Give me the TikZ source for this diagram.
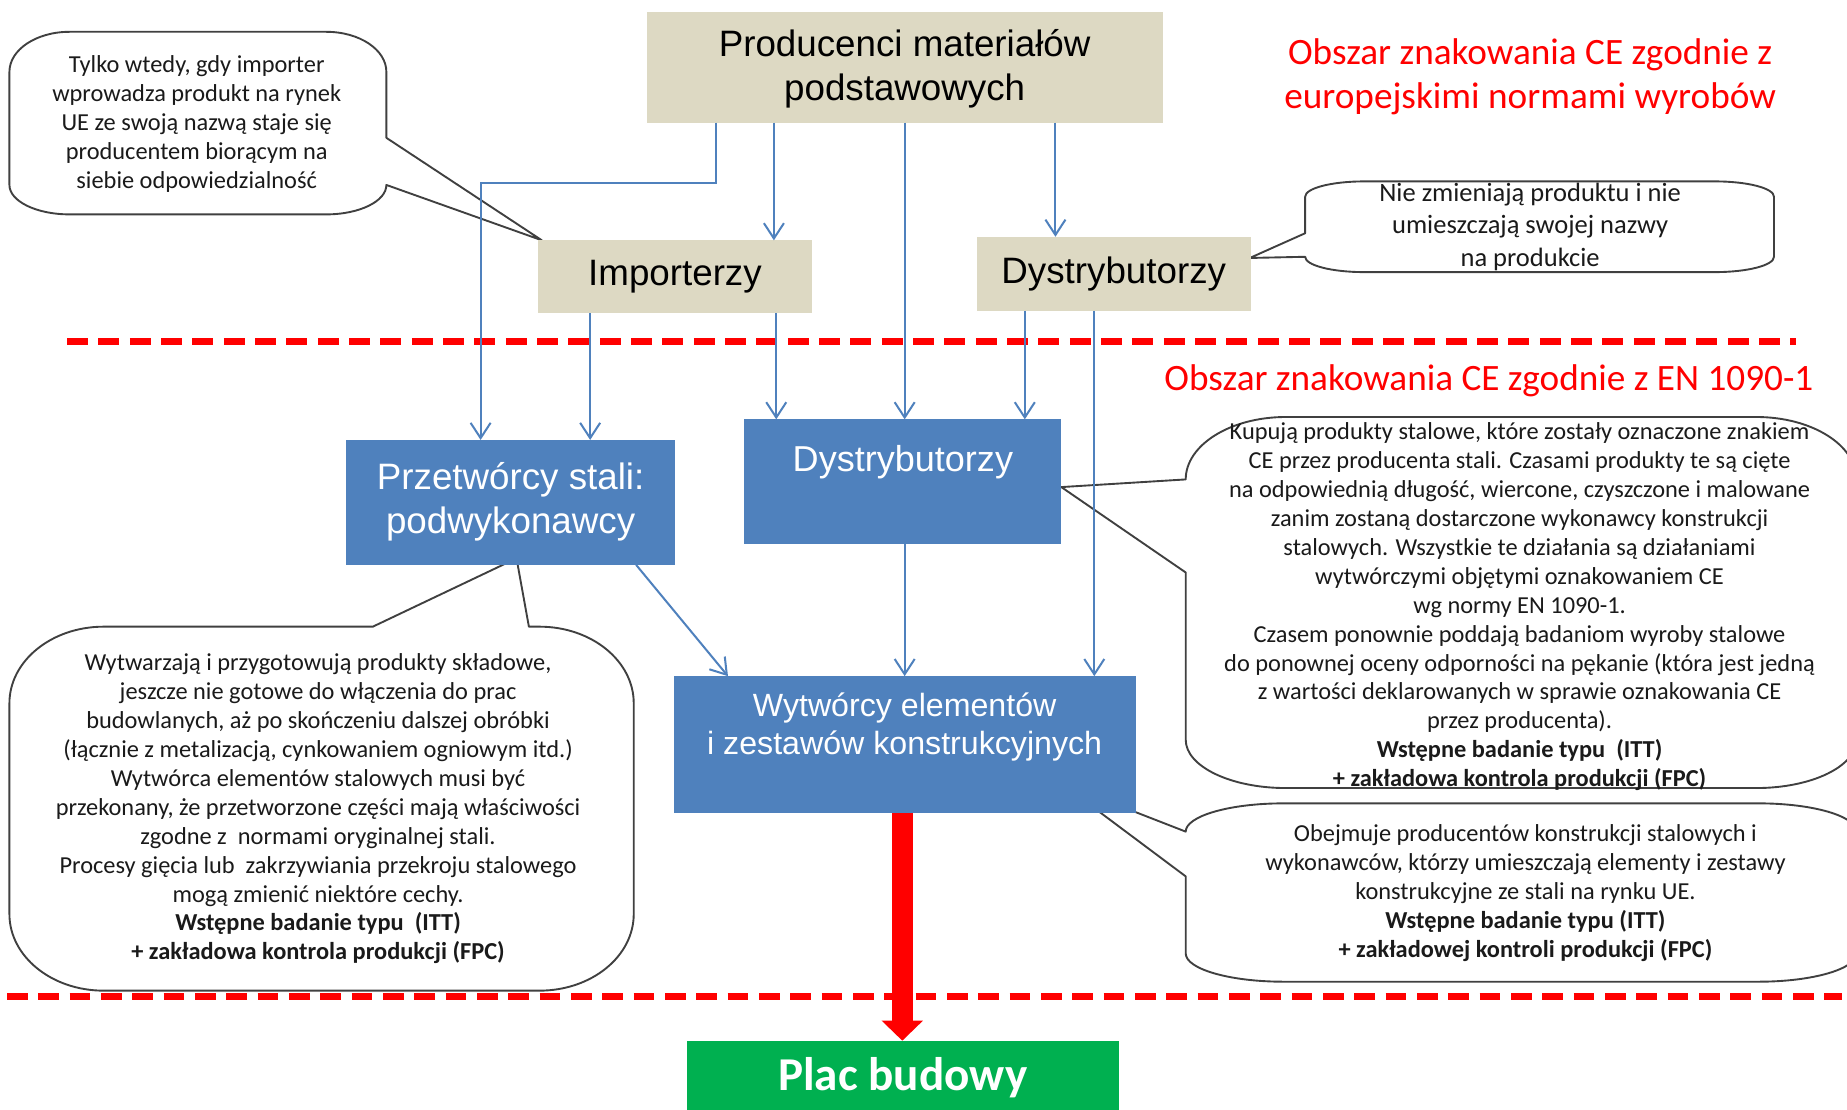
\documentclass[tikz,border=0pt]{standalone}
\usepackage{fontspec}
\setmainfont{Carlito}
\newfontfamily\arialf{Liberation Sans}
\usetikzlibrary{arrows.meta,calc}
\definecolor{tanc}{HTML}{DDD9C3}
\definecolor{bluec}{HTML}{4F81BD}
\definecolor{greenc}{HTML}{00B050}
\definecolor{outc}{HTML}{404040}
\definecolor{txtc}{HTML}{1A1A1A}
\tikzset{
 boxbase/.style={inner sep=0pt, outer sep=0pt, align=center},
 tanbox/.style={boxbase, fill=tanc, text=black, font=\arialf\fontsize{15.6}{18.8}\selectfont},
 bluebox/.style={boxbase, fill=bluec, text=white, font=\arialf\fontsize{15.6}{18.8}\selectfont},
 whitelab/.style={inner sep=0pt, align=center, text=white},
 arr/.style={draw=bluec, line width=0.85pt, -{Straight Barb[length=6.5pt,width=8.5pt]}},
 bub/.style={fill=white, draw=outc, line width=0.8pt, line join=round},
 bubtext/.style={align=center, text=txtc, inner sep=0pt, font=\fontsize{10.35}{12.3}\selectfont},
 redlab/.style={align=center, text=red, inner sep=0pt, font=\fontsize{15.8}{18.6}\selectfont},
 reddash/.style={draw=red, line width=2.85pt, dash pattern=on 8.8pt off 4.5pt},
 bigred/.style={draw=red, line width=9pt, -{Triangle[length=8.5pt 0 0,width=17pt 0 0]}},
}
\begin{document}
\begin{tikzpicture}[x=0.5pt,y=-0.5pt]
\useasboundingbox (0,0) rectangle (1568,942);
\clip (0,0) rectangle (1568,942);
\fill[white] (0,0) rectangle (1568,942);

% ---------- callout bubbles ----------
% A (top left)
\draw[bub] (59,27) -- (277,27) .. controls (305.2,27) and (328,42.2) .. (328,61)
  -- (328,117) -- (460,204) -- (328,157)
  .. controls (328,170.8) and (305.2,182) .. (277,182) -- (59,182)
  .. controls (30.8,182) and (8,170.8) .. (8,157) -- (8,61)
  .. controls (8,42.2) and (30.8,27) .. (59,27) -- cycle;
% B (top right)
\draw[bub] (1158,154) -- (1456,154) .. controls (1483.6,154) and (1506,159.8) .. (1506,167)
  -- (1506,218) .. controls (1506,225.2) and (1483.6,231) .. (1456,231) -- (1158,231)
  .. controls (1130.4,231) and (1108,225.2) .. (1108,218) -- (1061,219) -- (1108,198)
  -- (1108,167) .. controls (1108,159.8) and (1130.4,154) .. (1158,154) -- cycle;
% C (bottom left)
\draw[bub] (88,532) -- (316.5,532) -- (438.5,474) -- (449,532) -- (458,532)
  .. controls (502.2,532) and (538,561.1) .. (538,597) -- (538,776)
  .. controls (538,811.9) and (502.2,841) .. (458,841) -- (88,841)
  .. controls (43.8,841) and (8,811.9) .. (8,776) -- (8,597)
  .. controls (8,561.1) and (43.8,532) .. (88,532) -- cycle;
% D (right, large)
\draw[bub] (1091.6,354) -- (1491,354) .. controls (1537.9,354) and (1576,377.7) .. (1576,407)
  -- (1576,628) .. controls (1576,650.6) and (1537.9,669) .. (1491,669) -- (1091.6,669)
  .. controls (1044.7,669) and (1006.6,650.6) .. (1006.6,628) -- (1006.6,486)
  -- (901,413.5) -- (1006.6,407)
  .. controls (1006.6,377.7) and (1044.7,354) .. (1091.6,354) -- cycle;
% E (right, bottom)
\draw[bub] (1089.6,682) -- (1493,682) .. controls (1538.8,682) and (1576,692.8) .. (1576,706)
  -- (1576,809.4) .. controls (1576,822.6) and (1538.8,833.4) .. (1493,833.4) -- (1089.6,833.4)
  .. controls (1043.8,833.4) and (1006.6,822.6) .. (1006.6,809.4) -- (1006.6,744)
  -- (900.5,664.7) -- (1006.6,706)
  .. controls (1006.6,692.8) and (1043.8,682) .. (1089.6,682) -- cycle;

% ---------- red dashed borders ----------
\draw[reddash] (57,290) -- (1525,290);
\draw[reddash] (6,846) -- (1564,846);

% ---------- boxes ----------
\node[tanbox, minimum width=219pt, minimum height=47pt] (prod) at (768,57) {};
\node[whitelab, text=black, font=\arialf\fontsize{15.6}{18.6}\selectfont] (prodt) at (768,58.5) {Producenci materiałów\\podstawowych};
\node[tanbox, minimum width=116pt, minimum height=31pt] (imp) at (573,235) {Importerzy};
\node[tanbox, minimum width=116.5pt, minimum height=31.5pt] (dist1) at (945.5,232.5) {Dystrybutorzy};
\node[bluebox, minimum width=139.5pt, minimum height=53pt] (przet) at (433.5,426.5) {};
\node[whitelab, font=\arialf\fontsize{15.6}{18.6}\selectfont] (przett) at (433.5,426) {Przetwórcy stali:\\podwykonawcy};
\node[bluebox, minimum width=134.5pt, minimum height=53pt] (dist2) at (766.5,409) {};
\node[whitelab, font=\arialf\fontsize{15.3}{18.5}\selectfont] (dist2t) at (766.5,392) {Dystrybutorzy};
\node[bluebox, minimum width=196pt, minimum height=58pt] (wyt) at (768,632) {};
\node[whitelab, font=\arialf\fontsize{13.65}{16.25}\selectfont] (wytt) at (768,617) {Wytwórcy elementów\\i zestawów konstrukcyjnych};
\node[boxbase, fill=greenc, text=white, minimum width=183.5pt, minimum height=31pt,
      font=\bfseries\fontsize{20}{24}\selectfont] (plac) at (766.5,914.5) {Plac budowy};

% ---------- texts ----------
\node[redlab] (lab1) at (1299,65.5) {Obszar znakowania CE zgodnie z\\europejskimi normami wyrobów};
\node[redlab] (lab2) at (1264,323.5) {Obszar znakowania CE zgodnie z EN 1090-1};

\node[bubtext] (tA) at (167,105) {Tylko wtedy, gdy importer\\wprowadza produkt na rynek\\UE ze swoją nazwą staje się\\producentem biorącym na\\siebie odpowiedzialność};
\node[bubtext, font=\fontsize{11.25}{13.75}\selectfont] (tB) at (1299,192.5) {Nie zmieniają produktu i nie\\umieszczają swojej nazwy\\na produkcie};
\node[bubtext] (tC) at (270,686.5) {Wytwarzają i przygotowują produkty składowe,\\jeszcze nie gotowe do włączenia do prac\\budowlanych, aż po skończeniu dalszej obróbki\\(łącznie z metalizacją, cynkowaniem ogniowym itd.)\\Wytwórca elementów stalowych musi być\\przekonany, że przetworzone części mają właściwości\\zgodne z\ \ normami oryginalnej stali.\\Procesy gięcia lub\ \ zakrzywiania przekroju stalowego\\mogą zmienić niektóre cechy.\\\textbf{Wstępne badanie typu\ \ (ITT)}\\\textbf{+ zakładowa kontrola produkcji (FPC)}};
\node[bubtext] (tD) at (1290,515) {Kupują produkty stalowe, które zostały oznaczone znakiem\\CE przez producenta stali. Czasami produkty te są cięte\\na odpowiednią długość, wiercone, czyszczone i malowane\\zanim zostaną dostarczone wykonawcy konstrukcji\\stalowych. Wszystkie te działania są działaniami\\wytwórczymi objętymi oznakowaniem CE\\wg normy EN 1090-1.\\Czasem ponownie poddają badaniom wyroby stalowe\\do ponownej oceny odporności na pękanie (która jest jedną\\z wartości deklarowanych w sprawie oznakowania CE\\przez producenta).\\\textbf{Wstępne badanie typu\ \ (ITT)}\\\textbf{+ zakładowa kontrola produkcji (FPC)}};
\node[bubtext] (tE) at (1295,758) {Obejmuje producentów konstrukcji stalowych i\\wykonawców, którzy umieszczają elementy i zestawy\\konstrukcyjne ze stali na rynku UE.\\\textbf{Wstępne badanie typu (ITT)}\\\textbf{+ zakładowej kontroli produkcji (FPC)}};

% ---------- connectors ----------
\coordinate (c408) at (408,155);
\coordinate (c608) at (608,0);
\coordinate (c501) at (501,0);
\coordinate (c540) at (540,0);
\coordinate (c618) at (618,0);
\coordinate (c657) at (657,0);
\coordinate (c659) at (659,0);
\coordinate (c768) at (768,0);
\coordinate (c766) at (766,0);
\coordinate (c870) at (870,0);
\coordinate (c896) at (896,0);
\coordinate (c929) at (929,0);

\draw[arr] (prod.south -| c608) |- (c408) -- (przet.north -| c408);
\draw[arr] (prod.south -| c657) -- (imp.north -| c657);
\draw[arr] (prod.south -| c768) -- (dist2.north -| c768);
\draw[arr] (prod.south -| c896) -- (dist1.north -| c896);
\draw[arr] (imp.south -| c501) -- (przet.north -| c501);
\draw[arr] (imp.south -| c659) -- (dist2.north -| c659);
\draw[arr] (dist1.south -| c870) -- (dist2.north -| c870);
\draw[arr] (dist1.south -| c929) -- (wyt.north -| c929);
\draw[arr] (przet.south -| c540) -- (wyt.north -| c618);
\draw[arr] (dist2.south -| c768) -- (wyt.north -| c768);
\draw[bigred] (wyt.south -| c766) -- (plac.north -| c766);
\end{tikzpicture}
\end{document}
